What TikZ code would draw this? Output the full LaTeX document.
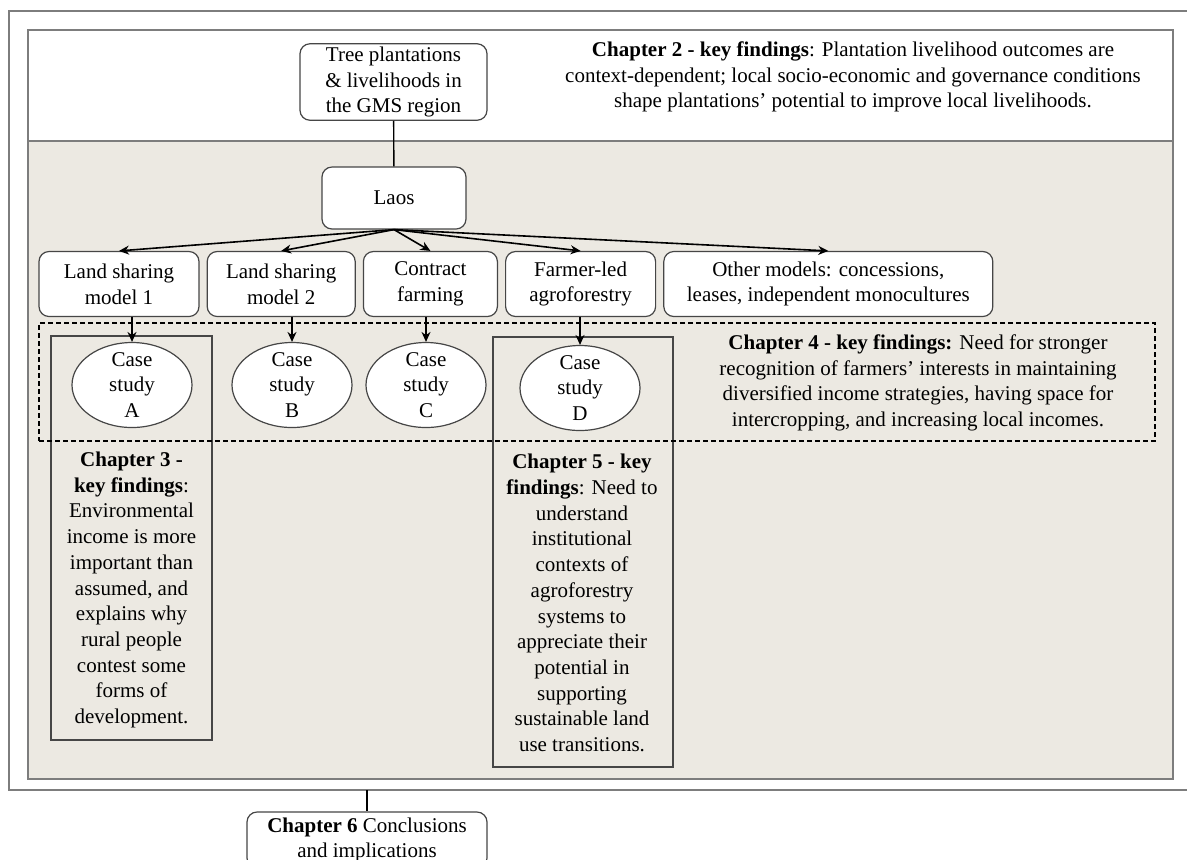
\documentclass[tikz,border=0pt]{standalone}
\usepackage{fontspec}
\setmainfont{Liberation Serif}
\usepackage{xcolor}
\usetikzlibrary{shapes.geometric, arrows.meta, positioning}

\definecolor{panelbg}{RGB}{236,233,226}
\definecolor{framegray}{RGB}{125,125,125}
\definecolor{edgegray}{RGB}{70,70,70}

\begin{document}
\begin{tikzpicture}[
  x=0.5pt, y=-0.5pt,
  every node/.style={font=\fontsize{10.5}{12.85}\selectfont},
  block/.style={rectangle, draw=edgegray, rounded corners=5pt, fill=white,
                align=center, inner sep=1.5pt, line width=0.6pt},
  model/.style={block, minimum height=32.5pt},
  case/.style={ellipse, draw=edgegray, fill=white, align=center, line width=0.6pt,
               minimum width=60pt, minimum height=42.5pt, inner xsep=2pt, inner ysep=-2pt},
  findbox/.style={rectangle, draw=edgegray, line width=0.6pt},
  findtext/.style={align=center, inner sep=0pt},
  arr/.style={-{Stealth[length=5pt, width=4.5pt]}, line width=0.8pt},
  link/.style={line width=0.7pt},
  node distance=3.5pt
]
  \useasboundingbox (0,0) rectangle (1187,859);
  \clip (0,0) rectangle (1187,859);
  \fill[white] (0,0) rectangle (1187,859);

  % frames
  \draw[framegray, line width=0.6pt] (9,11) rectangle (1200,790);
  \fill[panelbg] (28,141) rectangle (1173,779);
  \draw[framegray, line width=1pt] (28,30) rectangle (1173,779);
  \draw[framegray, line width=1pt] (28,141) -- (1173,141);

  % findings boxes
  \node[findbox, minimum width=80.5pt, minimum height=202pt] (ch3box) at (131.5,538) {};
  \node[findbox, minimum width=90pt, minimum height=215pt] (ch5box) at (583,552) {};
  \node[draw, dashed, dash pattern=on 2.5pt off 1.5pt, line width=0.6pt,
        minimum width=558pt, minimum height=59pt] (ch4box) at (597,382) {};

  \node[block, minimum width=93.5pt, minimum height=38pt] (tree) at (393.5,82)
    {Tree plantations\\\& livelihoods in\\the GMS region};
  \node[findtext] (ch2) at (853,77)
    {\textbf{Chapter 2 - key findings}: Plantation livelihood outcomes are\\
     context-dependent; local socio-economic and governance conditions\\
     shape plantations’ potential to improve local livelihoods.};
  \node[block, minimum width=72pt, minimum height=31pt] (laos) at (394,198) {Laos};

  \node[model, minimum width=80pt] (ls1) at (119,284) {Land sharing\\model 1};
  \node[model, minimum width=74pt, right=of ls1] (ls2) {Land sharing\\model 2};
  \node[model, minimum width=67pt, right=of ls2] (contract) {Contract\\farming};
  \node[model, minimum width=75pt, right=of contract] (farmer) {Farmer-led\\agroforestry};
  \node[model, minimum width=164.5pt, right=of farmer] (other)
    {Other models: concessions,\\leases, independent monocultures};

  \node[case] (caseA) at (132,385) {Case\\study\\A};
  \node[case] (caseB) at (292,385) {Case\\study\\B};
  \node[case] (caseC) at (426,385) {Case\\study\\C};
  \node[case] (caseD) at (580,388) {Case\\study\\D};

  \node[findtext] (ch4) at (918,383)
    {\textbf{Chapter 4 - key findings:} Need for stronger\\
     recognition of farmers’ interests in maintaining\\
     diversified income strategies, having space for\\
     intercropping, and increasing local incomes.};
  \node[findtext] (ch3) at (131.5,590)
    {\textbf{Chapter 3 -}\\\textbf{key findings}:\\Environmental\\income is more\\important than\\
     assumed, and\\explains why\\rural people\\contest some\\forms of\\development.};
  \node[findtext] (ch5) at (582,603)
    {\textbf{Chapter 5 - key}\\\textbf{findings}: Need to\\understand\\institutional\\contexts of\\
     agroforestry\\systems to\\appreciate their\\potential in\\supporting\\sustainable land\\
     use transitions.};

  \node[block, minimum width=120pt, minimum height=28pt] (ch6) at (367,840)
    {\textbf{Chapter 6} Conclusions\\and implications};
  \coordinate (frameS) at (367,790);

  \draw[link] (tree) -- (laos);
  \foreach \m in {ls1, ls2, contract, farmer, other}
    \draw[arr] (laos.south) -- (\m.north);
  \foreach \m/\c in {ls1/caseA, ls2/caseB, contract/caseC, farmer/caseD}
    \draw[arr] (\m.south -| \c.north) -- (\c.north);
  \draw[line width=0.6pt] (frameS) -- (ch6);
\end{tikzpicture}
\end{document}
